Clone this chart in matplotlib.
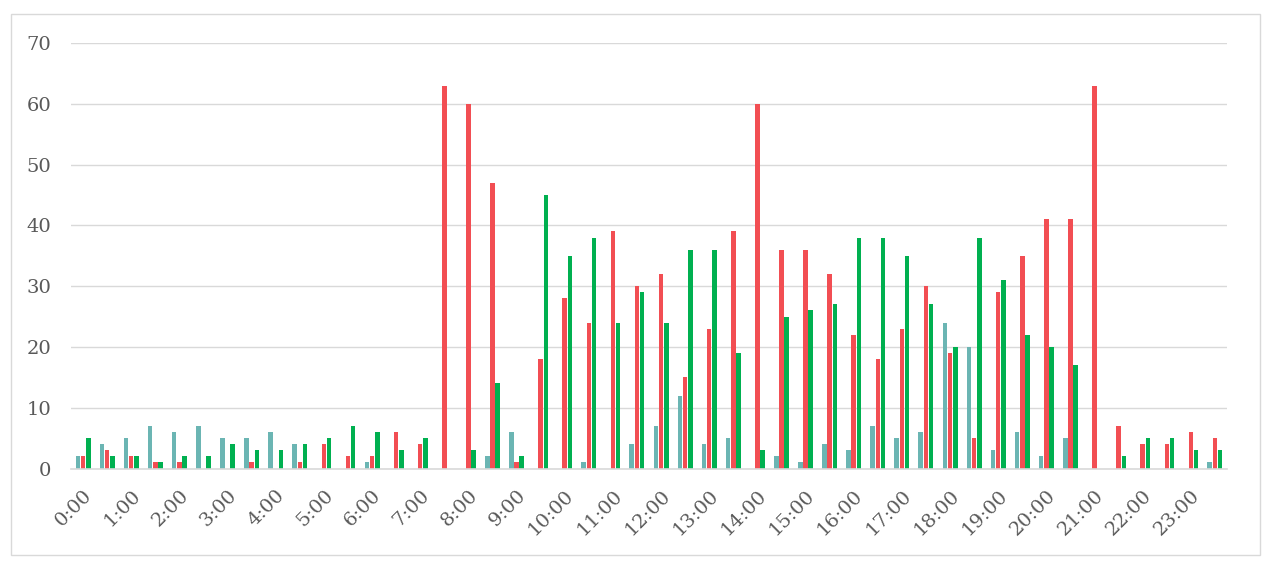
import matplotlib
matplotlib.use("Agg")
import matplotlib.pyplot as plt
from matplotlib.patches import Rectangle
import numpy as np

categories = [f"{h}:{m:02d}" for h in range(24) for m in (0, 30)]

teal = [2, 4, 5, 7, 6, 7, 5, 5, 6, 4, 0, 0, 1, 0, 0, 0,
        0, 2, 6, 0, 0, 1, 0, 4, 7, 12, 4, 5, 0, 2, 1, 4,
        3, 7, 5, 6, 24, 20, 3, 6, 2, 5, 0, 0, 0, 0, 0, 1]
red = [2, 3, 2, 1, 1, 0, 0, 1, 0, 1, 4, 2, 2, 6, 4, 63,
       60, 47, 1, 18, 28, 24, 39, 30, 32, 15, 23, 39, 60, 36, 36, 32,
       22, 18, 23, 30, 19, 5, 29, 35, 41, 41, 63, 7, 4, 4, 6, 5]
green = [5, 2, 2, 1, 2, 2, 4, 3, 3, 4, 5, 7, 6, 3, 5, 0,
         3, 14, 2, 45, 35, 38, 24, 29, 24, 36, 36, 19, 3, 25, 26, 27,
         38, 38, 35, 27, 20, 38, 31, 22, 20, 17, 0, 2, 5, 5, 3, 3]

yticks = [0, 10, 20, 30, 40, 50, 60, 70]

c_teal = "#6BB5B3"
c_red = "#F24E53"
c_green = "#00B050"
grid_c = "#D9D9D9"
text_c = "#595959"

W, H = 1272, 564
fig = plt.figure(figsize=(W / 100, H / 100), dpi=100)
ax = fig.add_axes([71 / W, (H - 468.5) / H, (1227 - 71) / W, (468.5 - 43) / H])

x = np.arange(len(categories))
bw = 0.19
off = 0.215
for vals, col, dx in ((teal, c_teal, -off), (red, c_red, 0.0), (green, c_green, off)):
    v = np.array(vals, dtype=float)
    mask = v > 0
    ax.bar(x[mask] + dx, v[mask], width=bw, color=col, linewidth=0, zorder=3)

ax.set_xlim(-0.5, len(categories) - 0.5)
ax.set_ylim(0, 70)
ax.set_yticks(yticks)
ax.set_yticklabels([str(t) for t in yticks])
ax.yaxis.grid(True, color=grid_c, linewidth=1.0, zorder=0)
ax.set_axisbelow(True)

ax.set_xticks(x[::2])
ax.set_xticklabels(categories[::2], rotation=45, ha="right", rotation_mode="anchor")

for s in ("top", "right", "left"):
    ax.spines[s].set_visible(False)
ax.spines["bottom"].set_color(grid_c)
ax.spines["bottom"].set_linewidth(1.2)
ax.spines["bottom"].set_zorder(4)

ax.tick_params(axis="y", length=0, pad=14, labelsize=14, labelcolor=text_c)
ax.tick_params(axis="x", length=0, pad=13, labelsize=14, labelcolor=text_c)
for lab in ax.get_xticklabels() + ax.get_yticklabels():
    lab.set_fontfamily("DejaVu Serif")

fig.patches.append(Rectangle((11 / W, (H - 555) / H), (1260 - 11) / W, (555 - 14) / H,
                             transform=fig.transFigure, fill=False,
                             edgecolor=grid_c, linewidth=1.0))

fig.savefig("out.png", dpi=100, facecolor="white")
